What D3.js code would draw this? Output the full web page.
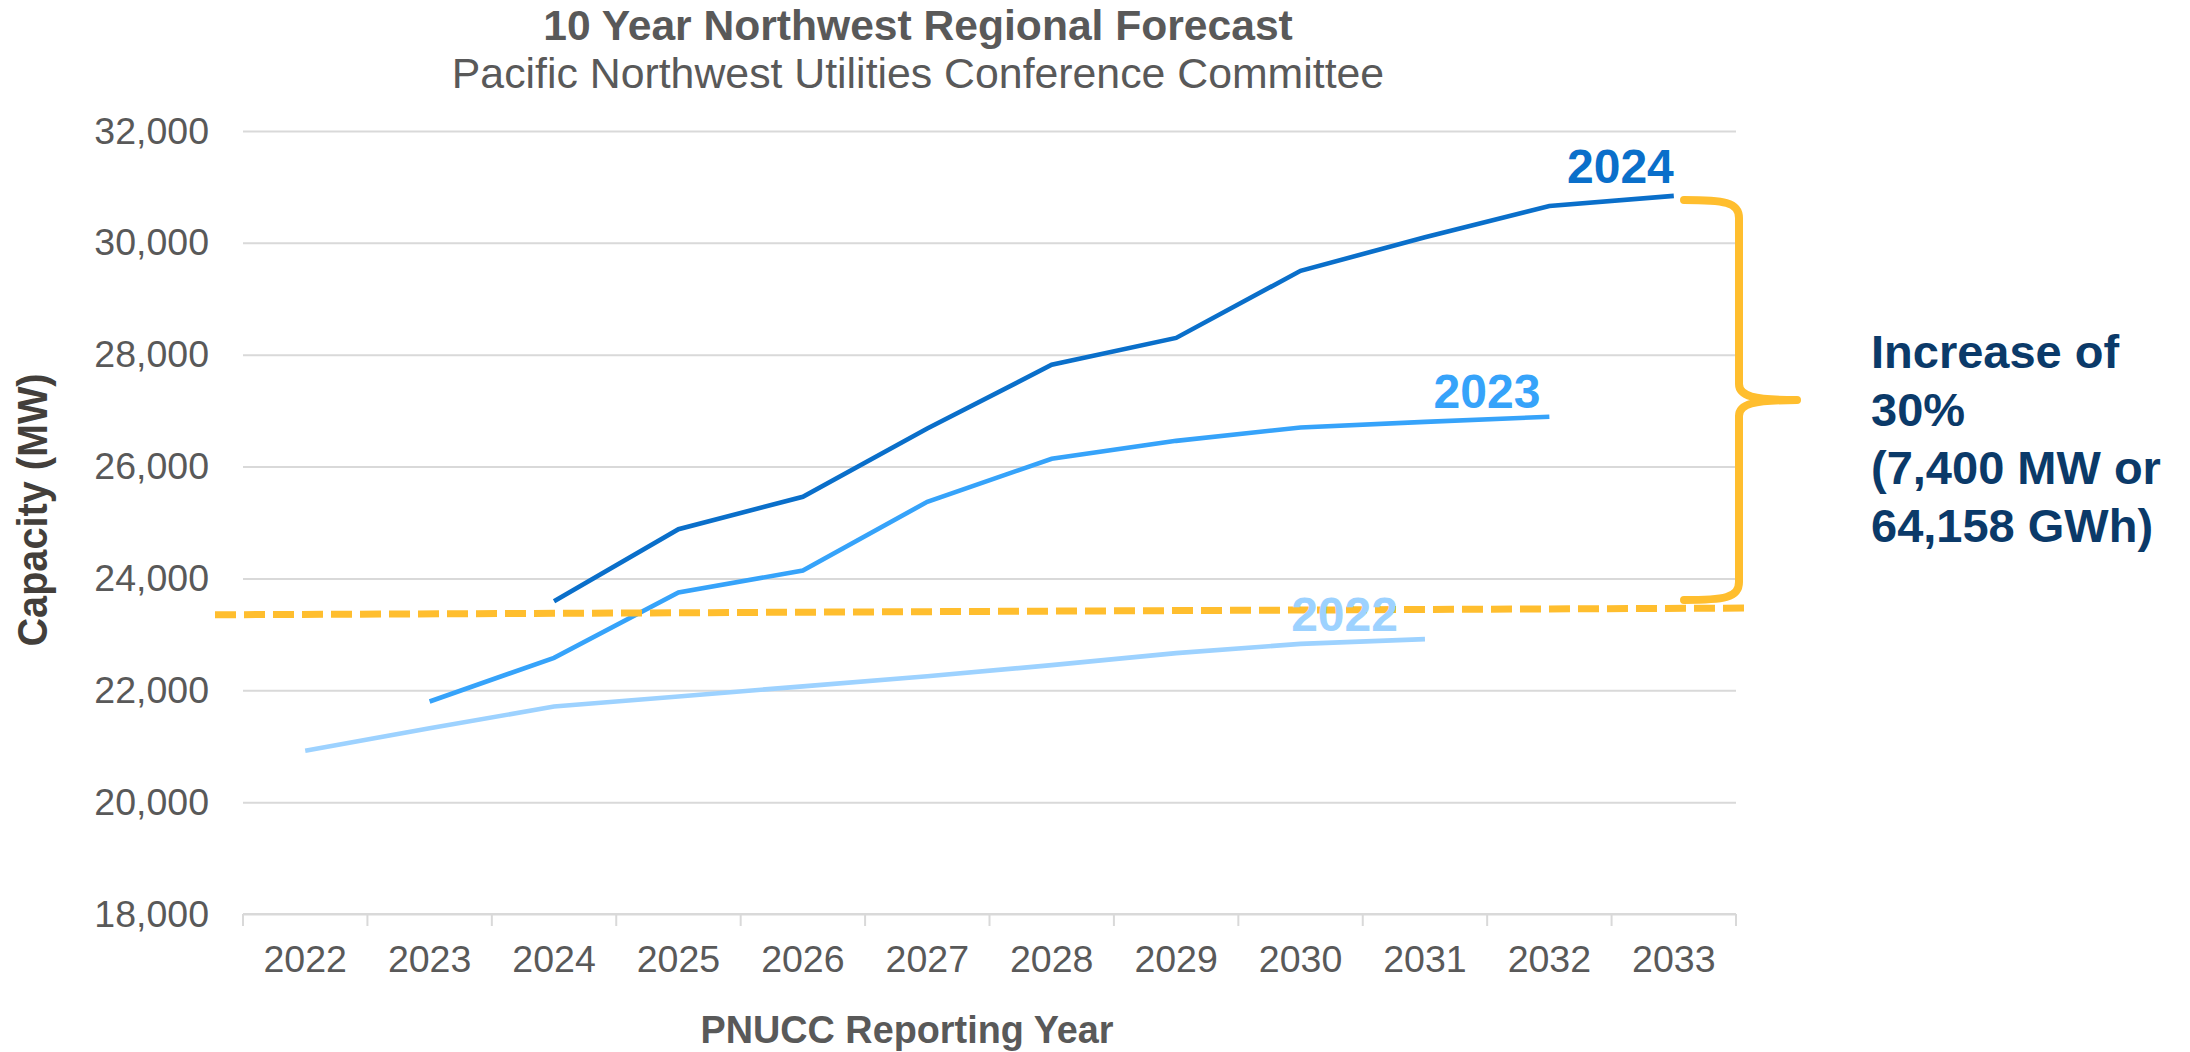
<!DOCTYPE html>
<html>
<head>
<meta charset="utf-8">
<script src="https://cdn.jsdelivr.net/npm/d3@7"></script>
<style>
  html, body { margin: 0; padding: 0; background: #ffffff; }
  svg { display: block; font-family: "Liberation Sans", Arial, sans-serif; }
</style>
</head>
<body>
<svg id="chart" width="2190" height="1052"></svg>
<script>
// Reporting years on the x axis
const years = ["2022", "2023", "2024", "2025", "2026", "2027", "2028", "2029", "2030", "2031", "2032", "2033"];

// Ten-year capacity forecasts (MW), one array per forecast vintage
const forecast2022 = [20920, 21320, 21710, 21890, 22070, 22250, 22450, 22665, 22830, 22915]; // 2022–2031
const forecast2023 = [21800, 22580, 23750, 24140, 25370, 26140, 26460, 26700, 26800, 26890]; // 2023–2032
const forecast2024 = [23590, 24880, 25460, 26680, 27820, 28300, 29500, 30100, 30660, 30840]; // 2024–2033

const seriesNames = ["2022", "2023", "2024"];
const seriesStartYear = ["2022", "2023", "2024"];
const seriesValues = [forecast2022, forecast2023, forecast2024];

// y axis ticks
const yTicks = [18000, 20000, 22000, 24000, 26000, 28000, 30000, 32000];

// Reference level (dashed) at its two ends, and the span of the bracket
const referenceLevel = [23350, 23470];
const bracketSpan = [23614, 30766];

// Annotation text
const titleText = "10 Year Northwest Regional Forecast";
const subtitleText = "Pacific Northwest Utilities Conference Committee";
const yTitle = "Capacity (MW)";
const xTitle = "PNUCC Reporting Year";
const noteLines = ["Increase of", "30%", "(7,400 MW or", "64,158 GWh)"];

// ---- styling ----
const colors = { "2022": "#9DD2FF", "2023": "#36A3FA", "2024": "#0A6FCA" };
const orange = "#FFBE2E";
const gridColor = "#D9D9D9";
const textGrey = "#595959";

const svg = d3.select("#chart");
const plot = { left: 243, right: 1736, top: 131, bottom: 914 };

const x = d3.scaleBand().domain(years).range([plot.left, plot.right]).padding(0);
const cx = d => x(d) + x.bandwidth() / 2;
const y = d3.scaleLinear().domain([18000, 32000]).range([plot.bottom, plot.top]);

// Titles
svg.append("text")
  .attr("x", 918).attr("y", 40)
  .attr("text-anchor", "middle")
  .attr("font-size", 42.6).attr("font-weight", "bold")
  .attr("fill", textGrey)
  .text(titleText);
svg.append("text")
  .attr("x", 918).attr("y", 88)
  .attr("text-anchor", "middle")
  .attr("font-size", 42.8)
  .attr("fill", textGrey)
  .text(subtitleText);

// Horizontal gridlines
const yAxis = d3.axisLeft(y).tickValues(yTicks).tickSize(-(plot.right - plot.left)).tickPadding(34)
  .tickFormat(d3.format(","));
const gy = svg.append("g").attr("transform", `translate(${plot.left},0)`).call(yAxis);
gy.select(".domain").remove();
gy.selectAll(".tick line").attr("stroke", gridColor).attr("stroke-width", 2);
gy.selectAll(".tick text")
  .attr("font-size", 37.5).attr("fill", textGrey)
  .attr("font-family", "Liberation Sans, Arial, sans-serif");

// Category axis with boundary ticks
const gx = svg.append("g").attr("transform", `translate(0,${plot.bottom})`);
gx.append("line")
  .attr("x1", plot.left).attr("x2", plot.right)
  .attr("stroke", gridColor).attr("stroke-width", 2);
const boundaries = years.map(d => x(d)).concat([plot.right]);
gx.selectAll("line.bound").data(boundaries).enter().append("line")
  .attr("class", "bound")
  .attr("x1", d => d).attr("x2", d => d)
  .attr("y1", 0).attr("y2", 12)
  .attr("stroke", gridColor).attr("stroke-width", 2);
gx.selectAll("text.year").data(years).enter().append("text")
  .attr("class", "year")
  .attr("x", d => cx(d)).attr("y", 58)
  .attr("text-anchor", "middle")
  .attr("font-size", 37.5).attr("fill", textGrey)
  .text(d => d);

// Axis titles
svg.append("text")
  .attr("x", 907).attr("y", 1043)
  .attr("text-anchor", "middle")
  .attr("font-size", 39).attr("font-weight", "bold")
  .attr("fill", textGrey)
  .attr("textLength", 413).attr("lengthAdjust", "spacingAndGlyphs")
  .text(xTitle);
svg.append("text")
  .attr("transform", "translate(47,510) rotate(-90)")
  .attr("text-anchor", "middle")
  .attr("font-size", 43).attr("font-weight", "bold")
  .attr("fill", "#433F3B")
  .attr("textLength", 273).attr("lengthAdjust", "spacingAndGlyphs")
  .text(yTitle);

// Forecast lines
const line = d3.line().x(d => cx(d.year)).y(d => y(d.value));
const seriesData = seriesNames.map((name, i) => {
  const start = years.indexOf(seriesStartYear[i]);
  return {
    name,
    points: seriesValues[i].map((v, j) => ({ year: years[start + j], value: v }))
  };
});

svg.append("g").selectAll("path").data(seriesData).enter().append("path")
  .attr("d", d => line(d.points))
  .attr("fill", "none")
  .attr("stroke", d => colors[d.name])
  .attr("stroke-width", 4.6);

// Dashed reference level
svg.append("line")
  .attr("x1", plot.left - 28).attr("x2", plot.right + 15)
  .attr("y1", y(referenceLevel[0])).attr("y2", y(referenceLevel[1]))
  .attr("stroke", orange).attr("stroke-width", 7)
  .attr("stroke-dasharray", "21,8");

// Series labels at the end of each line
const labelShift = { "2022": -27, "2023": -9, "2024": 0 };
const labelLift = { "2022": -8, "2023": -9, "2024": -13 };
svg.append("g").selectAll("text").data(seriesData).enter().append("text")
  .attr("x", d => cx(d.points[d.points.length - 1].year) + labelShift[d.name])
  .attr("y", d => y(d.points[d.points.length - 1].value) + labelLift[d.name])
  .attr("text-anchor", "end")
  .attr("font-size", 48).attr("font-weight", "bold")
  .attr("fill", d => colors[d.name])
  .text(d => d.name);

// Right-hand bracket spanning the increase
const bTop = y(bracketSpan[1]);
const bBot = y(bracketSpan[0]);
const bMid = (bTop + bBot) / 2;
const xs = 1684, xv = 1739, xt = 1797;
const bracePath = [
  `M${xs},${bTop}`,
  `C${xs + 40},${bTop} ${xv},${bTop + 2} ${xv},${bTop + 18}`,
  `L${xv},${bMid - 16}`,
  `C${xv},${bMid - 4} ${xv + 14},${bMid} ${xt},${bMid}`,
  `M${xt},${bMid}`,
  `C${xv + 14},${bMid} ${xv},${bMid + 4} ${xv},${bMid + 16}`,
  `L${xv},${bBot - 18}`,
  `C${xv},${bBot - 2} ${xs + 40},${bBot} ${xs},${bBot}`
].join(" ");
svg.append("path")
  .attr("d", bracePath)
  .attr("fill", "none")
  .attr("stroke", orange)
  .attr("stroke-width", 8)
  .attr("stroke-linecap", "round")
  .attr("stroke-linejoin", "round");

// Increase note
svg.append("g").selectAll("text").data(noteLines).enter().append("text")
  .attr("x", 1871)
  .attr("y", (d, i) => 368 + i * 58)
  .attr("font-size", 47).attr("font-weight", "bold")
  .attr("fill", "#0B3A69")
  .text(d => d);
</script>
</body>
</html>
